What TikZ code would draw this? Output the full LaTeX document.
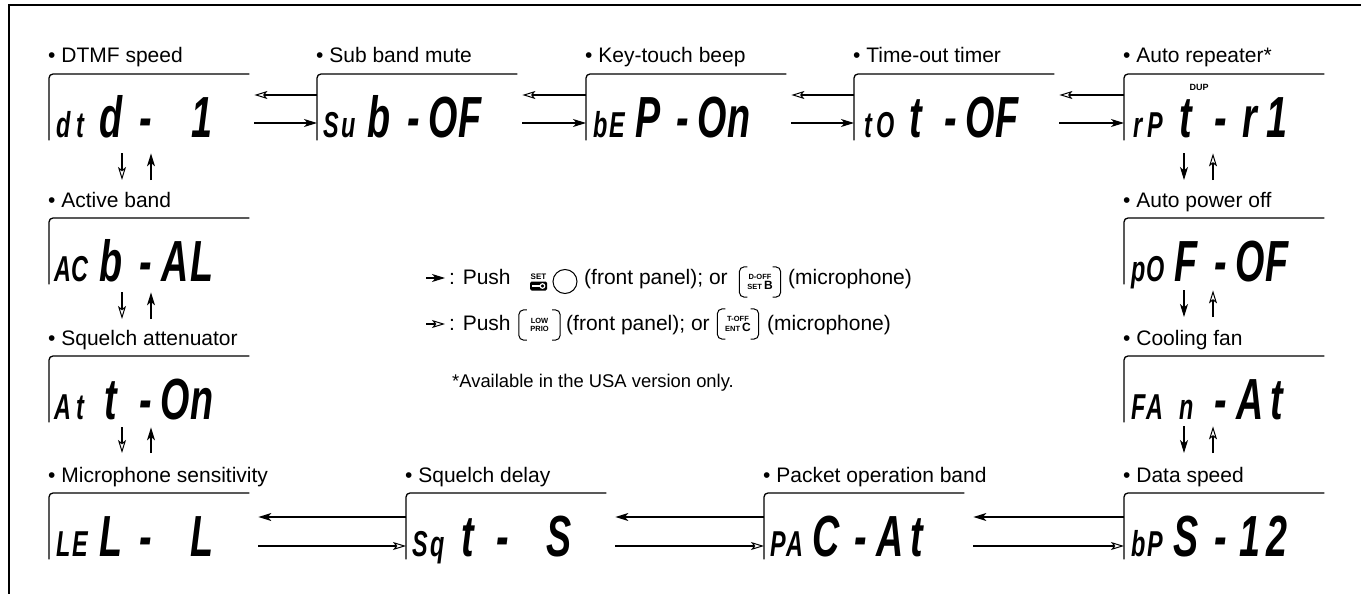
\documentclass[tikz,border=0pt]{standalone}
\usepackage{fontspec}
\setmainfont{Liberation Sans}
\newfontfamily\lcdfont[FakeStretch=0.65]{Liberation Sans}
\usetikzlibrary{arrows.meta,positioning}

% LCD readout: two small cells, then four large cells
\newcommand{\lcdS}{\fontsize{36}{36}\selectfont}
\newcommand{\lcdL}{\fontsize{58}{58}\selectfont}
\newcommand{\lcd}[6]{{\lcdfont\bfseries\itshape%
  \hspace*{14pt}\makebox[0pt]{\lcdS #1}%
  \hspace*{17pt}\makebox[0pt]{\lcdS #2}%
  \hspace*{31pt}\makebox[0pt]{\lcdL #3}%
  \hspace*{35pt}\makebox[0pt]{\lcdL #4}%
  \hspace*{29pt}\makebox[0pt]{\lcdL #5}%
  \hspace*{27pt}\makebox[0pt]{\lcdL #6}%
  \hspace*{14pt}}}

\begin{document}
\begin{tikzpicture}[x=1pt, y=-1pt,
    lbl/.style={font=\fontsize{21}{25}\selectfont, inner sep=0pt, anchor=base west},
    screen/.style={minimum width=200pt, minimum height=66pt, inner sep=0pt, anchor=north west},
    readout/.style={inner sep=0pt, anchor=base west},
    rim/.style={line width=1.3pt, rounded corners=4pt},
    fwd/.style={line width=1.1pt, -{Stealth[length=13pt, width=8pt, inset=3.5pt]}},
    back/.style={line width=1.1pt, -{Stealth[open, length=13pt, width=8pt, inset=3pt, line width=1pt]}},
    legtxt/.style={font=\fontsize{21}{25}\selectfont, inner sep=0pt, anchor=base west},
    keycap/.style={minimum width=41pt, minimum height=30pt, inner sep=0pt, align=center,
        font=\fontsize{7.5}{8}\selectfont\bfseries},
    keyrim/.style={line width=1pt, rounded corners=5pt}]

    \useasboundingbox (0,0) rectangle (1361,594);
    \draw[line width=1.6pt] (9,594) -- (9,5) -- (1361,5);

    % --- Top row ---
    \node[screen] (dtd) at (49,74) {};
    \node[screen] (sub) at (317,74) {};
    \node[screen] (bep) at (586,74) {};
    \node[screen] (tot) at (854,74) {};
    \node[screen] (rpt) at (1124,74) {};

    % --- Left column ---
    \node[screen] (acb) at (49,218) {};
    \node[screen] (att) at (49,356) {};

    % --- Right column ---
    \node[screen] (pof) at (1124,218) {};
    \node[screen] (fan) at (1124,356) {};

    % --- Bottom row ---
    \node[screen] (lel) at (49,493) {};
    \node[screen] (sqt) at (406,493) {};
    \node[screen] (pac) at (764,493) {};
    \node[screen] (bps) at (1124,493) {};

    \foreach \n in {dtd,sub,bep,tot,rpt,acb,att,pof,fan,lel,sqt,pac,bps}
        \draw[rim] (\n.south west) -- (\n.north west) -- (\n.north east);

    % Labels
    \node[lbl] (dtdlbl) at ([xshift=-1pt,yshift=11pt]dtd.north west) {• DTMF speed};
    \node[lbl] (sublbl) at ([xshift=-1pt,yshift=11pt]sub.north west) {• Sub band mute};
    \node[lbl] (beplbl) at ([xshift=-1pt,yshift=11pt]bep.north west) {• Key-touch beep};
    \node[lbl] (totlbl) at ([xshift=-1pt,yshift=11pt]tot.north west) {• Time-out timer};
    \node[lbl] (rptlbl) at ([xshift=-1pt,yshift=11pt]rpt.north west) {• Auto repeater*};
    \node[lbl] (acblbl) at ([xshift=-1pt,yshift=11pt]acb.north west) {• Active band};
    \node[lbl] (attlbl) at ([xshift=-1pt,yshift=11pt]att.north west) {• Squelch attenuator};
    \node[lbl] (poflbl) at ([xshift=-1pt,yshift=11pt]pof.north west) {• Auto power off};
    \node[lbl] (fanlbl) at ([xshift=-1pt,yshift=11pt]fan.north west) {• Cooling fan};
    \node[lbl] (lellbl) at ([xshift=-1pt,yshift=11pt]lel.north west) {• Microphone sensitivity};
    \node[lbl] (sqtlbl) at ([xshift=-1pt,yshift=11pt]sqt.north west) {• Squelch delay};
    \node[lbl] (paclbl) at ([xshift=-1pt,yshift=11pt]pac.north west) {• Packet operation band};
    \node[lbl] (bpslbl) at ([xshift=-1pt,yshift=11pt]bps.north west) {• Data speed};

    % Readouts
    \node[readout] (dtdtxt) at ([yshift=-63pt]dtd.north west) {\lcd{d}{t}{d}{-}{}{1}};
    \node[readout] (subtxt) at ([yshift=-63pt]sub.north west) {\lcd{S}{u}{b}{-}{O}{F}};
    \node[readout] (beptxt) at ([yshift=-63pt]bep.north west) {\lcd{b}{E}{P}{-}{O}{n}};
    \node[readout] (tottxt) at ([yshift=-63pt]tot.north west) {\lcd{t}{O}{t}{-}{O}{F}};
    \node[readout] (rpttxt) at ([yshift=-63pt]rpt.north west) {\lcd{r}{P}{t}{-}{r}{1}};
    \node[font=\fontsize{9}{9}\selectfont\bfseries, inner sep=0pt] (dup) at (1199,87) {DUP};
    \node[readout] (acbtxt) at ([yshift=-63pt]acb.north west) {\lcd{A}{C}{b}{-}{A}{L}};
    \node[readout] (atttxt) at ([yshift=-63pt]att.north west) {\lcd{A}{t}{t}{-}{O}{n}};
    \node[readout] (poftxt) at ([yshift=-63pt]pof.north west) {\lcd{p}{O}{F}{-}{O}{F}};
    \node[readout] (fantxt) at ([yshift=-63pt]fan.north west) {\lcd{F}{A}{\lcdS n}{-}{A}{t}};
    \node[readout] (leltxt) at ([yshift=-63pt]lel.north west) {\lcd{L}{E}{L}{-}{}{L}};
    \node[readout] (sqttxt) at ([yshift=-63pt]sqt.north west) {\lcd{S}{q}{t}{-}{}{S}};
    \node[readout] (pactxt) at ([yshift=-63pt]pac.north west) {\lcd{P}{A}{C}{-}{A}{t}};
    \node[readout] (bpstxt) at ([yshift=-63pt]bps.north west) {\lcd{b}{P}{S}{-}{1}{2}};

    % Top row connectors
    \foreach \a/\b in {dtd/sub,sub/bep,bep/tot,tot/rpt} {
        \draw[back] ([yshift=-21pt]\b.north west) -- ([xshift=5pt,yshift=-21pt]\a.north east);
        \draw[fwd] ([xshift=5pt,yshift=-49pt]\a.north east) -- ([yshift=-49pt]\b.north west);
    }

    % Bottom row connectors
    \foreach \a/\b in {lel/sqt,sqt/pac,pac/bps} {
        \draw[fwd] ([yshift=-24pt]\b.north west) -- ([xshift=9pt,yshift=-24pt]\a.north east);
        \draw[back] ([xshift=9pt,yshift=-53pt]\a.north east) -- ([yshift=-53pt]\b.north west);
    }

    % Left column connectors
    \foreach \a/\b/\g/\e in {dtd/acb/13/38,acb/att/8/37,att/lel/5/40} {
        \draw[back] ([xshift=73pt,yshift=-\g pt]\a.south west) -- ([xshift=73pt,yshift=\e pt]\b.north west);
        \draw[fwd] ([xshift=102pt,yshift=\e pt]\b.north west) -- ([xshift=102pt,yshift=-\g pt]\a.south west);
    }

    % Right column connectors
    \foreach \a/\b/\g/\e in {rpt/pof/13/38,pof/fan/6/39,fan/bps/4/40} {
        \draw[fwd] ([xshift=60pt,yshift=-\g pt]\a.south west) -- ([xshift=60pt,yshift=\e pt]\b.north west);
        \draw[back] ([xshift=89pt,yshift=\e pt]\b.north west) -- ([xshift=89pt,yshift=-\g pt]\a.south west);
    }

    % --- Legend ---
    \coordinate (fwdA) at (426,278);
    \coordinate (fwdB) at (445,278);
    \draw[fwd] (fwdA) -- (fwdB);
    \node[legtxt] (push1) at (449,284) {: Push};
    \node[font=\fontsize{8}{8}\selectfont\bfseries, inner sep=0pt] (setlbl) at (538.5,276.5) {SET};
    \fill[rounded corners=1.5pt] (530,281.5) rectangle (547,290.5);
    \draw[white, line width=1.4pt] (532,286) -- (540,286);
    \draw[white, line width=1.2pt] (542.5,286) circle[radius=2.3pt];
    \node[circle, draw, line width=1pt, minimum size=24pt, inner sep=0pt] (setbtn) at (565,281.5) {};
    \node[legtxt] (panel1) at (584,284) {(front panel); or};
    \node[keycap] (doff) at (760,282) {D-OFF\\SET {\fontsize{12}{12}\selectfont B}};
    \node[legtxt] (mic1) at (788,284) {(microphone)};

    \coordinate (backA) at (426,324);
    \coordinate (backB) at (445,324);
    \draw[back] (backA) -- (backB);
    \node[legtxt] (push2) at (449,330) {: Push};
    \node[keycap] (lowkey) at (539.5,325) {LOW\\PRIO};
    \node[legtxt] (panel2) at (566,330) {(front panel); or};
    \node[keycap] (toffkey) at (738,324) {T-OFF\\ENT {\fontsize{12}{12}\selectfont C}};
    \node[legtxt] (mic2) at (767,330) {(microphone)};

    \foreach \k in {doff,lowkey,toffkey} {
        \draw[keyrim] ([xshift=8pt]\k.north west) -- (\k.north west) -- (\k.south west) -- ([xshift=8pt]\k.south west);
        \draw[keyrim] ([xshift=-8pt]\k.north east) -- (\k.north east) -- (\k.south east) -- ([xshift=-8pt]\k.south east);
    }

    \node[font=\fontsize{18.4}{22}\selectfont, inner sep=0pt, anchor=base west] (note) at (452,387)
        {*Available in the USA version only.};

\end{tikzpicture}
\end{document}
